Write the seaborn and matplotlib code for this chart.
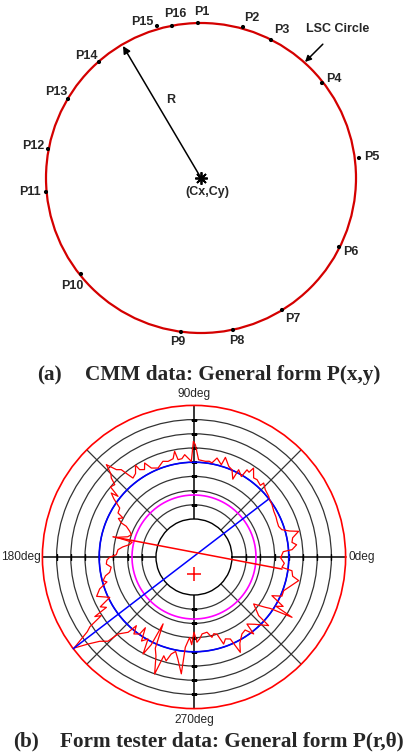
import numpy as np
import pandas as pd
import seaborn as sns
import matplotlib.pyplot as plt
from matplotlib.patches import Circle

sns.set_theme(style='white')
plt.rcParams['font.family'] = ['Liberation Sans', 'DejaVu Sans']

# (a) CMM probing points, relative to the LSC centre
point_names = ['P1', 'P2', 'P3', 'P4', 'P5', 'P6', 'P7', 'P8',
               'P9', 'P10', 'P11', 'P12', 'P13', 'P14', 'P15', 'P16']
point_x = [-3, 42, 70, 121, 158, 138, 81, 32, -20, -120, -155, -153, -133, -102, -44, -29]
point_y = [155, 151, 138, 95, 20, -69, -132, -152, -154, -96, -14, 29, 79, 116, 152, 152]
lsc_radius = 155
r_arrow_end = (-78, 132)

# (b) form tester trace: angle (deg) and radial deviation (grid divisions)
trace_deg = [0, 3.4, 4.3, 6.8, 8.5, 11, 13.8, 15.2, 17.3, 19.9, 23.3, 26, 29.8, 33.9, 37,
             39.1, 43.4, 46.7, 47.2, 50.8, 53, 56.2, 57, 58.7, 59.5, 62.9, 63.5, 66.5, 69,
             72.5, 73.5, 76.9, 79.2, 81, 83.2, 87.3, 89.3, 90.3, 91.6, 95.2, 97, 99.3, 100.4,
             102, 105.2, 108, 112, 115.6, 117.7, 119.5, 121.9, 122.5, 125, 127.7, 128.7,
             129.8, 131.6, 133.5, 135, 136.3, 137.6, 140, 141.4, 142.3, 144, 146.6, 149.9,
             151.2, 153, 154.9, 155.6, 158.2, 160.4, 163, 165.8, 166.5, 169, 172, 174.5,
             178.3, 180.2, 182, 184.6, 187, 190.3, 192, 194.6, 196, 198.7, 202, 205.6, 208,
             209.9, 211, 212.3, 213.8, 215, 217.2, 219.4, 221.8, 224.4, 225.4, 228.8, 230,
             232, 234.8, 235.5, 238, 240.7, 242.3, 244, 245.2, 247, 249, 251.4, 253, 255,
             256.8, 259, 261, 263.8, 264.5, 266.9, 268.5, 270, 272, 274, 276, 279.8, 282.6,
             284.5, 286.6, 288.8, 291, 293.9, 295.9, 298, 301.9, 305, 307.8, 308.3, 312,
             315, 317.4, 317.8, 321.8, 324.8, 326, 328.4, 329, 331, 333.6, 336, 339.4, 343,
             347.3, 349, 352, 353.3, 356, 359.8]
trace_dev = [-0.55, -0.38, 0.25, 0.6, 0.3, 0.4, 0.91, 0.3, -0.2, -0.34, -0.31, -0.25, -0.2,
             -0.06, 0.0, 0.1, 0.23, 0.48, 0.2, 0.35, 0.3, 0.86, 0.44, 0.51, -0.1, 0.23, -0.55,
             0.03, 0.16, 0.68, 0.1, 0.48, 0.07, 0.15, 0.11, 0.18, 1.23, 1.47, 0.06, 0.56, 0.3,
             0.27, 0.89, 0.4, 0.3, 0.41, 0.08, 0.27, 0.8, 0.4, 0.57, 0.99, 0.5, 0.35, 0.76,
             1.33, 1.55, 2.29, 1.6, 1.38, 0.88, 1.0, 0.17, 0.69, 0.3, -0.41, -0.49, -0.97,
             -0.7, -1.03, -1.44, -1.8, -1.99, -1.8, -1.04, -2.2, -2.06, -1.6, -1.3, -1.2,
             -0.74, -0.54, -0.48, -0.8, -0.64, -0.3, -0.06, -0.3, 0.34, 0.72, -0.1, 0.8, 0.44,
             1.47, 1.05, 2.14, 2.5, 3.93, 2.98, 2.23, 1.8, 0.94, 0.37, -0.36, 0.2, -0.04,
             -0.63, 0.3, -0.06, 1.04, 0.2, -1.49, 0.3, 0.8, 2.02, 0.6, 0.9, 0.34, 0.1, 0.6,
             1.6, -0.29, -1.0, -0.5, -1.38, -0.67, -0.9, -1.23, -1.3, -0.88, -1.1, -1.0, -0.2,
             -0.5, -0.36, 0.79, 0.2, -0.29, -0.4, 0.18, -0.66, -0.3, 0.1, 0.46, -0.53, -1.33,
             -0.53, -0.2, 1.43, 0.06, 0.5, -0.55, 0.1, 0.07, 0.4, 0.88, 0.4, 0.29, -0.44,
             -0.3, -0.6]
grid_r = [-3, -2, -1, 0, 1, 2, 3]
inner_r, outer_r = -4, 4
lsc_dev = 0
mic_dev = -2.31
blue_line = ([217.2, 37.8], [4.0, 0.0])
red_line = ([166, 352.2], [-0.8, -0.42])
centre_offset = (270, -5.48)

W, H = 411, 753
fig = plt.figure(figsize=(W / 100, H / 100), dpi=100)

# ---------- (a) ----------
ax = fig.add_axes([0, (H - 350) / H, 1, 350 / H])
ax.set_xlim(-201, 210)
ax.set_ylim(-172, 178)
ax.axis('off')
ax.add_patch(Circle((0, 0), lsc_radius, fill=False, ec='#d40000', lw=1.6))
pts = pd.DataFrame({'x': point_x, 'y': point_y, 'name': point_names})
sns.scatterplot(data=pts, x='x', y='y', color='black', s=9, edgecolor='none', ax=ax)
ax.set_xlabel('')
ax.set_ylabel('')
label_dx = [4, 9, 11, 12, 13, 12, 11, 4, -3, -9, -16, -15, -12, -13, -15, 3]
label_dy = [11, 9, 10, 4, 1, -5, -9, -11, -10, -12, 0, 3, 7, 6, 4, 12]
for name, x, y, dx, dy in zip(point_names, point_x, point_y, label_dx, label_dy):
    ax.annotate(name, (x, y), xytext=(dx, dy), textcoords='offset pixels',
                ha='center', va='center', fontsize=9, fontweight='bold')
ax.annotate('', xy=r_arrow_end, xytext=(0, 0),
            arrowprops=dict(arrowstyle='-|>', color='black', lw=1.1,
                            shrinkA=0, shrinkB=0, mutation_scale=11))
ax.plot(0, 0, marker=(8, 2, 0), ms=9, mew=1.3, color='black')
ax.text(-30, 78, 'R', ha='center', va='center', fontsize=9, fontweight='bold')
ax.text(6, -14, '(Cx,Cy)', ha='center', va='center', fontsize=9, fontweight='bold')
ax.annotate('LSC Circle', xy=(104, 116), xytext=(137, 149), ha='center', va='center',
            fontsize=9, fontweight='bold',
            arrowprops=dict(arrowstyle='-|>', color='black', lw=1.1,
                            shrinkA=6, shrinkB=0, mutation_scale=9))

fig.text(37 / W, 1 - 380 / H, '(a)', family='Liberation Serif', fontweight='bold',
         fontsize=15.3, ha='left', va='baseline')
fig.text(85 / W, 1 - 380 / H, 'CMM data: General form P(x,y)', family='Liberation Serif',
         fontweight='bold', fontsize=15.3, ha='left', va='baseline')

# ---------- (b) ----------
cx, cy, rpx = 194, 557, 151.6
axp = fig.add_axes([(cx - rpx) / W, (H - cy - rpx) / H, 2 * rpx / W, 2 * rpx / H],
                   projection='polar')
full = np.linspace(0, 2 * np.pi, 721)
axp.plot(full, np.full_like(full, lsc_dev), color='#0000ff', lw=1.2, zorder=3)
axp.plot(full, np.full_like(full, mic_dev), color='#ff00ff', lw=1.2, zorder=3)

trace = pd.DataFrame({'theta': np.deg2rad(trace_deg + [trace_deg[0] + 360]),
                      'r': trace_dev + [trace_dev[0]]})
sns.lineplot(data=trace, x='theta', y='r', sort=False, estimator=None,
             color='#ff0000', lw=0.9, ax=axp, zorder=4)

axp.plot(np.deg2rad(blue_line[0]), blue_line[1], color='#0000ff', lw=1.1,
         clip_on=False, zorder=5)
axp.plot(np.deg2rad(red_line[0]), red_line[1], color='#ff0000', lw=1.1,
         clip_on=False, zorder=5)
axp.plot(np.deg2rad(centre_offset[0]), centre_offset[1], marker='+', ms=10, mew=1.1,
         color='#ff0000', clip_on=False, zorder=5)

for ang in [0, 90, 180, 270]:
    t = np.deg2rad(ang)
    axp.plot([t, t], [inner_r, outer_r], color='black', lw=1.1, zorder=2)
    axp.plot([t] * len(grid_r), grid_r, ls='none', marker='|' if ang in (0, 180) else '_',
             ms=5, mew=1.0, color='black', zorder=2)

axp.set_rlim(inner_r, outer_r)
axp.set_rorigin(inner_r - 38 / 14.2)
axp.set_rticks(grid_r)
axp.set_yticklabels([])
axp.set_thetagrids([45, 135, 225, 315], labels=[''] * 4)
axp.grid(True, color='#333333', lw=0.9)
axp.spines['polar'].set_color('#ff0000')
axp.spines['polar'].set_linewidth(1.2)
axp.spines['inner'].set_color('black')
axp.spines['inner'].set_linewidth(1.0)
axp.set_xlabel('')
axp.set_ylabel('')

for txt, ang, off, ha in [('0deg', 0, (3, 0), 'left'), ('90deg', 90, (0, 11), 'center'),
                          ('180deg', 180, (-2, 0), 'right'),
                          ('270deg', 270, (0, -11), 'center')]:
    axp.annotate(txt, (np.deg2rad(ang), outer_r), xytext=off, textcoords='offset pixels',
                 ha=ha, va='center', fontsize=8.6, annotation_clip=False)

fig.text(13 / W, 1 - 746 / H, '(b)', family='Liberation Serif', fontweight='bold',
         fontsize=15.3, ha='left', va='baseline')
fig.text(60 / W, 1 - 746 / H, 'Form tester data: General form P(r,θ)',
         family='Liberation Serif', fontweight='bold', fontsize=15.3, ha='left',
         va='baseline')

fig.savefig('out.png', dpi=100)
